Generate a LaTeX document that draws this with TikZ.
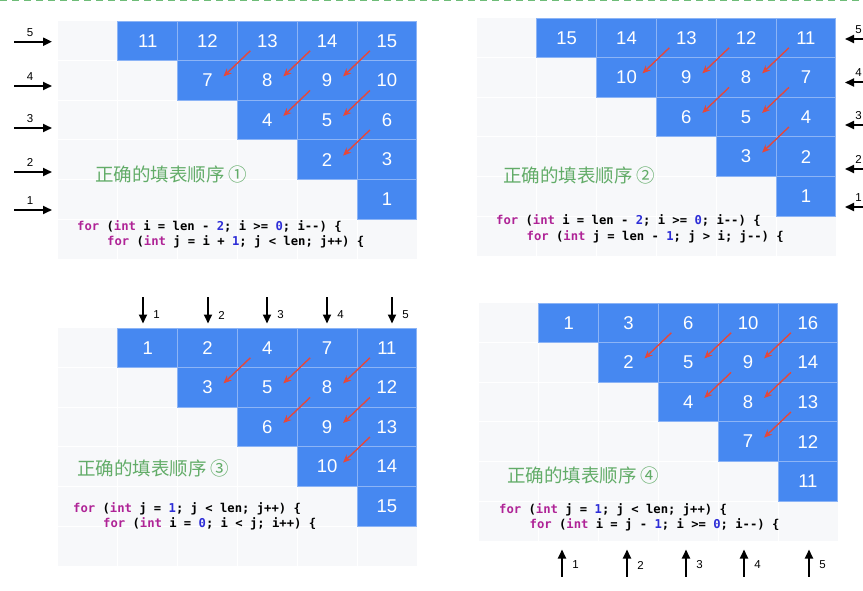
\documentclass[tikz,border=0pt]{standalone}
\usepackage{fontspec}
\setmainfont{Liberation Sans}
\setmonofont{DejaVu Sans Mono}
\newfontfamily\cjkfont{Noto Sans CJK SC}
\usetikzlibrary{arrows.meta,calc}
\definecolor{cellblue}{RGB}{70,136,241}
\definecolor{cellline}{RGB}{140,180,246}
\definecolor{gridbg}{RGB}{247,248,250}
\definecolor{arrred}{RGB}{228,72,60}
\definecolor{txtgreen}{RGB}{98,172,104}
\definecolor{dashgreen}{RGB}{110,188,120}
\definecolor{kwc}{RGB}{175,35,150}
\definecolor{numc}{RGB}{45,45,215}
\newcommand\kw[1]{\textcolor{kwc}{#1}}
\newcommand\nm[1]{\textcolor{numc}{#1}}
\tikzset{
  cell/.style={fill=cellblue, draw=cellline, line width=0.8pt, minimum width=59.8pt, minimum height=39.6pt, inner sep=0pt, text=white, font=\fontsize{18.5}{20}\selectfont},
  gridline/.style={draw=white, line width=0.8pt},
  redarr/.style={draw=arrred, line width=1.4pt, -{Stealth[length=8pt,width=7pt]}},
  blkarr/.style={draw=black, line width=2pt, -{Triangle[length=9pt,width=8pt]}},
  numlab/.style={inner sep=0pt, font=\fontsize{11.5}{12}\selectfont},
  cjklab/.style={inner sep=0pt, anchor=west, text=txtgreen, font=\cjkfont\fontsize{18.5}{20}\selectfont},
  codeline/.style={inner sep=0pt, anchor=base west, font=\ttfamily\bfseries\fontsize{12.2}{14}\selectfont}
}
\newcommand\tablegrid[4]{%
  \fill[gridbg] (#2,#3) rectangle ++(358.8,237.6);
  \foreach \k in {1,...,5}{
    \draw[gridline] ({#2+\k*59.8},#3) -- ++(0,237.6);
    \draw[gridline] (#2,{#3+\k*39.6}) -- ++(358.8,0);
  }
  \foreach \r/\c/\v in {#4}
    \node[cell] (#1-\r-\c) at ({#2+(\c+0.5)*59.8},{#3+(\r+0.5)*39.6}) {\v};
  \foreach \r/\c/\rr/\cc in {0/3/1/2,0/4/1/3,0/5/1/4,1/4/2/3,1/5/2/4,2/5/3/4}
    \draw[redarr] ($(#1-\r-\c)+(-17,10)$) -- ($(#1-\rr-\cc)+(16,-4)$);
}
\begin{document}
\begin{tikzpicture}[x=1pt,y=-1pt]
\clip (0,0) rectangle (863,591);
\useasboundingbox (0,0) rectangle (863,591);
\fill[white] (0,0) rectangle (863,591);
\coordinate (dl) at (0,0);
\coordinate (dr) at (863,0);
\draw[dashgreen, line width=2.8pt, dash pattern=on 7pt off 5pt] (dl) -- (dr);

% quadrant 1
\tablegrid{qa}{58}{21}{0/1/11,0/2/12,0/3/13,0/4/14,0/5/15,1/2/7,1/3/8,1/4/9,1/5/10,2/3/4,2/4/5,2/5/6,3/4/2,3/5/3,4/5/1}
\foreach \n/\y in {5/41.7,4/86,3/128,2/172,1/210}{
  \coordinate (la\n s) at (14,\y);
  \coordinate (la\n e) at (52,\y);
  \draw[blkarr] (la\n s) -- (la\n e);
  \node[numlab] (la\n t) at (30,\y-9.5) {\n};
}
\node[cjklab] (ta) at (95,174) {正确的填表顺序 ①};
\node[codeline] (ca1) at (77,230.5) {\kw{for} (\kw{int} i = len - \nm{2}; i >= \nm{0}; i--) \{};
\node[codeline] (ca2) at (107,245.5) {\kw{for} (\kw{int} j = i + \nm{1}; j < len; j++) \{};

% quadrant 2
\tablegrid{qb}{477}{18}{0/1/15,0/2/14,0/3/13,0/4/12,0/5/11,1/2/10,1/3/9,1/4/8,1/5/7,2/3/6,2/4/5,2/5/4,3/4/3,3/5/2,4/5/1}
\foreach \n/\y in {5/39,4/82.5,3/125,2/169,1/207}{
  \coordinate (lb\n s) at (875,\y);
  \coordinate (lb\n e) at (845,\y);
  \draw[blkarr] (lb\n s) -- (lb\n e);
  \node[numlab] (lb\n t) at (858.5,\y-9.5) {\n};
}
\node[cjklab] (tb) at (503,175) {正确的填表顺序 ②};
\node[codeline] (cb1) at (496,225) {\kw{for} (\kw{int} i = len - \nm{2}; i >= \nm{0}; i--) \{};
\node[codeline] (cb2) at (526.5,240.3) {\kw{for} (\kw{int} j = len - \nm{1}; j > i; j--) \{};

% quadrant 3
\tablegrid{qc}{58}{328}{0/1/1,0/2/2,0/3/4,0/4/7,0/5/11,1/2/3,1/3/5,1/4/8,1/5/12,2/3/6,2/4/9,2/5/13,3/4/10,3/5/14,4/5/15}
\foreach \n/\x in {1/143,2/208,3/267,4/327,5/392}{
  \coordinate (lc\n s) at (\x,297);
  \coordinate (lc\n e) at (\x,323.5);
  \draw[blkarr] (lc\n s) -- (lc\n e);
  \node[numlab] (lc\n t) at (\x+13.5,315) {\n};
}
\node[cjklab] (tc) at (77,468) {正确的填表顺序 ③};
\node[codeline] (cc1) at (73,512.5) {\kw{for} (\kw{int} j = \nm{1}; j < len; j++) \{};
\node[codeline] (cc2) at (103,527) {\kw{for} (\kw{int} i = \nm{0}; i < j; i++) \{};

% quadrant 4
\tablegrid{qd}{479}{303}{0/1/1,0/2/3,0/3/6,0/4/10,0/5/16,1/2/2,1/3/5,1/4/9,1/5/14,2/3/4,2/4/8,2/5/13,3/4/7,3/5/12,4/5/11}
\foreach \n/\x in {1/562,2/627,3/686,4/744,5/809}{
  \coordinate (ld\n s) at (\x,576.5);
  \coordinate (ld\n e) at (\x,549.5);
  \draw[blkarr] (ld\n s) -- (ld\n e);
  \node[numlab] (ld\n t) at (\x+13.5,565) {\n};
}
\node[cjklab] (td) at (507,475) {正确的填表顺序 ④};
\node[codeline] (cd1) at (499,513.5) {\kw{for} (\kw{int} j = \nm{1}; j < len; j++) \{};
\node[codeline] (cd2) at (529.5,528.5) {\kw{for} (\kw{int} i = j - \nm{1}; i >= \nm{0}; i--) \{};
\end{tikzpicture}
\end{document}
